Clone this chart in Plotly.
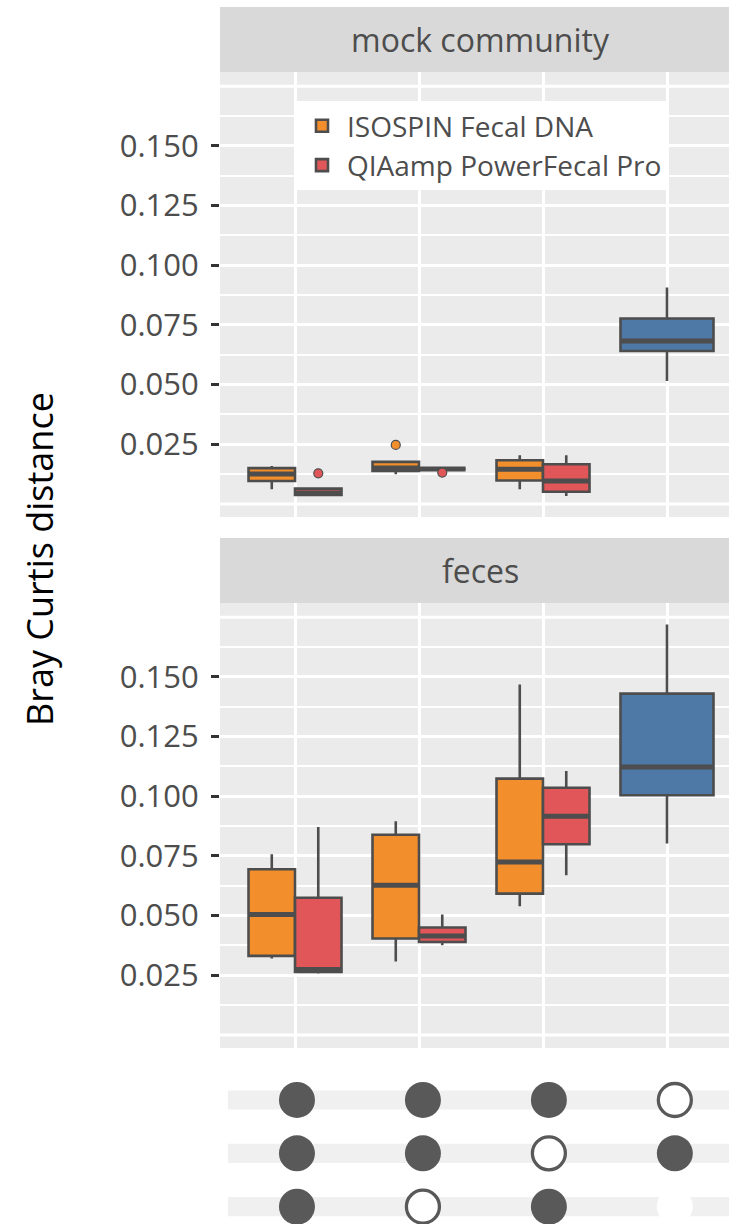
import plotly.graph_objects as go

# ---- data -------------------------------------------------------------
categories = [1, 2, 3, 4]          # combination index shown in the matrix below
kit_names = ["ISOSPIN Fecal DNA", "QIAamp PowerFecal Pro", "other"]
kit_colors = ["#F28E2B", "#E15759", "#4E79A7"]

# mock community: five-number summaries (lower whisker, q1, median, q3, upper whisker)
mock_iso_cat = [1, 2, 3]
mock_iso_lo = [0.0061, 0.0124, 0.0061]
mock_iso_q1 = [0.0096, 0.0138, 0.0098]
mock_iso_med = [0.0125, 0.0150, 0.0145]
mock_iso_q3 = [0.0150, 0.0176, 0.0183]
mock_iso_hi = [0.0159, 0.0176, 0.0204]
mock_iso_out_cat = [2]
mock_iso_out = [0.0247]

mock_qia_cat = [1, 2, 3]
mock_qia_lo = [0.0035, 0.0146, 0.0033]
mock_qia_q1 = [0.0037, 0.0146, 0.0051]
mock_qia_med = [0.0046, 0.0146, 0.0096]
mock_qia_q3 = [0.0064, 0.0146, 0.0166]
mock_qia_hi = [0.0064, 0.0146, 0.0204]
mock_qia_out_cat = [1, 2]
mock_qia_out = [0.0128, 0.0131]

mock_oth_cat = [4]
mock_oth_lo = [0.0515]
mock_oth_q1 = [0.0641]
mock_oth_med = [0.0683]
mock_oth_q3 = [0.0777]
mock_oth_hi = [0.0907]

# feces
fec_iso_cat = [1, 2, 3]
fec_iso_lo = [0.0320, 0.0308, 0.0539]
fec_iso_q1 = [0.0331, 0.0404, 0.0592]
fec_iso_med = [0.0505, 0.0627, 0.0725]
fec_iso_q3 = [0.0694, 0.0839, 0.1074]
fec_iso_hi = [0.0757, 0.0895, 0.1468]

fec_qia_cat = [1, 2, 3]
fec_qia_lo = [0.0257, 0.0376, 0.0669]
fec_qia_q1 = [0.0264, 0.0389, 0.0799]
fec_qia_med = [0.0274, 0.0414, 0.0916]
fec_qia_q3 = [0.0575, 0.0450, 0.1036]
fec_qia_hi = [0.0871, 0.0504, 0.1106]

fec_oth_cat = [4]
fec_oth_lo = [0.0802]
fec_oth_q1 = [0.1004]
fec_oth_med = [0.1123]
fec_oth_q3 = [0.1430]
fec_oth_hi = [0.1720]

y_tick_vals = [0.025, 0.050, 0.075, 0.100, 0.125, 0.150]
y_tick_text = ["0.025", "0.050", "0.075", "0.100", "0.125", "0.150"]

# combination matrix: 1 = included, 0 = excluded, None = not applicable
matrix_rows = [3, 2, 1]  # plotted y positions, top to bottom
matrix_state = [
    [1, 1, 1, 0],
    [1, 1, 0, 1],
    [1, 0, 1, None],
]

# ---- style ------------------------------------------------------------
FONT = "Open Sans"
OUTLINE = "#4D4D4D"
PANEL_BG = "#EBEBEB"
STRIP_BG = "#D9D9D9"
DOT = "#595959"
DODGE = 0.1875
BOX_W = 0.375
Y_RANGE = [-0.0055, 0.181]

W, H = 729, 1224
def py(px):  # pixel row -> paper fraction
    return 1 - px / H

x_dom = [220 / W, 1.0]
panels = [
    dict(xa="x", ya="y", top=72, bottom=517, strip=(7, 72), title="mock community"),
    dict(xa="x2", ya="y2", top=603, bottom=1048, strip=(538, 603), title="feces"),
]

fig = go.Figure()

def add_boxes(xa, ya, cats, offset, width, lo, q1, med, q3, hi, color, name, legend):
    xs = [c + offset for c in cats]
    fig.add_trace(go.Box(
        x=xs, lowerfence=lo, q1=q1, median=med, q3=q3, upperfence=hi,
        orientation="v", width=width, whiskerwidth=0, boxpoints=False,
        fillcolor=color, line=dict(color=OUTLINE, width=2.6),
        name=name, legendgroup=name, showlegend=legend,
        xaxis=xa, yaxis=ya, hoverinfo="skip",
    ))
    return xs

median_segments = []

series = [
    # (panel, cats, offset, width, lo, q1, med, q3, hi, color idx, legend)
    (0, mock_iso_cat, -DODGE, BOX_W, mock_iso_lo, mock_iso_q1, mock_iso_med, mock_iso_q3, mock_iso_hi, 0, True),
    (0, mock_qia_cat, DODGE, BOX_W, mock_qia_lo, mock_qia_q1, mock_qia_med, mock_qia_q3, mock_qia_hi, 1, True),
    (0, mock_oth_cat, 0.0, 2 * BOX_W, mock_oth_lo, mock_oth_q1, mock_oth_med, mock_oth_q3, mock_oth_hi, 2, False),
    (1, fec_iso_cat, -DODGE, BOX_W, fec_iso_lo, fec_iso_q1, fec_iso_med, fec_iso_q3, fec_iso_hi, 0, False),
    (1, fec_qia_cat, DODGE, BOX_W, fec_qia_lo, fec_qia_q1, fec_qia_med, fec_qia_q3, fec_qia_hi, 1, False),
    (1, fec_oth_cat, 0.0, 2 * BOX_W, fec_oth_lo, fec_oth_q1, fec_oth_med, fec_oth_q3, fec_oth_hi, 2, False),
]

for p, cats, off, w, lo, q1, med, q3, hi, ci, leg in series:
    pan = panels[p]
    xs = add_boxes(pan["xa"], pan["ya"], cats, off, w, lo, q1, med, q3, hi,
                   kit_colors[ci], kit_names[ci], leg)
    segx, segy = [], []
    for x, m in zip(xs, med):
        segx += [x - w / 2, x + w / 2, None]
        segy += [m, m, None]
    median_segments.append((pan, segx, segy))

# thicker median bars, drawn over the boxes
for pan, segx, segy in median_segments:
    fig.add_trace(go.Scatter(
        x=segx, y=segy, mode="lines", line=dict(color=OUTLINE, width=5),
        showlegend=False, hoverinfo="skip", xaxis=pan["xa"], yaxis=pan["ya"],
    ))

# outliers
for cats, vals, off, ci in [(mock_iso_out_cat, mock_iso_out, -DODGE, 0),
                            (mock_qia_out_cat, mock_qia_out, DODGE, 1)]:
    fig.add_trace(go.Scatter(
        x=[c + off for c in cats], y=vals, mode="markers",
        marker=dict(size=9, color=kit_colors[ci], line=dict(color=OUTLINE, width=1.2)),
        showlegend=False, hoverinfo="skip", xaxis="x", yaxis="y",
    ))

# combination matrix
for r, states in zip(matrix_rows, matrix_state):
    for c, s in zip(categories, states):
        if s == 1:
            mk = dict(size=36, color=DOT, line=dict(width=0))
        elif s == 0:
            mk = dict(size=33, color="white", line=dict(color=DOT, width=3.3))
        else:
            mk = dict(size=36, color="white", line=dict(width=0))
        fig.add_trace(go.Scatter(
            x=[c], y=[r], mode="markers", marker=mk, showlegend=False,
            hoverinfo="skip", xaxis="x3", yaxis="y3",
        ))

shapes = []
annotations = []
axis_common = dict(showline=False, zeroline=False)
layout = {}
for i, pan in enumerate(panels):
    xk = "xaxis" if i == 0 else "xaxis2"
    yk = "yaxis" if i == 0 else "yaxis2"
    layout[xk] = dict(
        domain=x_dom, range=[0.395, 4.5], anchor=pan["ya"],
        tickvals=categories, showticklabels=False, ticks="",
        showgrid=True, gridcolor="white", gridwidth=3, **axis_common,
    )
    layout[yk] = dict(
        domain=[py(pan["bottom"]), py(pan["top"])], range=Y_RANGE, anchor=pan["xa"],
        tickvals=y_tick_vals, ticktext=y_tick_text, ticks="outside", ticklen=8,
        tickwidth=2.5, tickcolor="#333333", ticklabelstandoff=6,
        tickfont=dict(family=FONT, size=31, color=OUTLINE),
        showgrid=True, gridcolor="white", gridwidth=3,
        minor=dict(dtick=0.0125, tick0=0, showgrid=True, gridcolor="white", gridwidth=1.5),
        **axis_common,
    )
    # panel background
    shapes.append(dict(type="rect", xref="paper", yref="paper",
                       x0=x_dom[0], x1=x_dom[1], y0=py(pan["bottom"]), y1=py(pan["top"]),
                       fillcolor=PANEL_BG, line=dict(width=0), layer="below"))
    # unlabeled major lines at 0 and 0.175
    for v in (0.0, 0.175):
        shapes.append(dict(type="line", xref="paper", yref=pan["ya"],
                           x0=x_dom[0], x1=x_dom[1], y0=v, y1=v,
                           line=dict(color="white", width=3), layer="below"))
    # facet strip
    s0, s1 = pan["strip"]
    shapes.append(dict(type="rect", xref="paper", yref="paper", x0=x_dom[0], x1=1,
                       y0=py(s1), y1=py(s0), fillcolor=STRIP_BG, line=dict(width=0)))
    annotations.append(dict(text=pan["title"], xref="paper", yref="paper",
                            x=481 / W, y=py((s0 + s1) / 2), showarrow=False,
                            xanchor="center", yanchor="middle",
                            font=dict(family=FONT, size=32, color=OUTLINE)))

# matrix axes and row bands
layout["xaxis3"] = dict(domain=x_dom, range=[0.389, 4.43], anchor="y3",
                        showticklabels=False, ticks="", showgrid=False, **axis_common)
layout["yaxis3"] = dict(domain=[0, py(1073)], range=[0.675, 3.506], anchor="x3",
                        showticklabels=False, ticks="", showgrid=False, **axis_common)
for r in matrix_rows:
    shapes.append(dict(type="rect", xref="paper", yref="y3", x0=228 / W, x1=1,
                       y0=r - 0.18, y1=r + 0.18, fillcolor="#F0F0F0",
                       line=dict(width=0), layer="below"))

annotations.append(dict(text="Bray Curtis distance", xref="paper", yref="paper",
                        x=40 / W, y=py(559), showarrow=False, textangle=-90,
                        xanchor="center", yanchor="middle",
                        font=dict(family=FONT, size=36, color="#000000")))

fig.update_layout(
    width=W, height=H, margin=dict(l=0, r=0, t=0, b=0),
    paper_bgcolor="white", plot_bgcolor="rgba(0,0,0,0)",
    boxmode="overlay",
    shapes=shapes, annotations=annotations,
    legend=dict(x=297 / W, y=py(101), xanchor="left", yanchor="top",
                bgcolor="white", font=dict(family=FONT, size=28, color=OUTLINE),
                traceorder="grouped", tracegroupgap=0, itemwidth=40,
                borderwidth=0),
    **layout,
)

fig.write_html("out.html")
